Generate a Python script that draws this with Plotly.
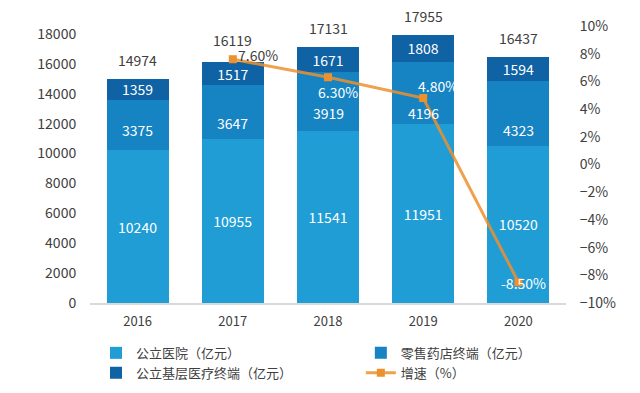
import plotly.graph_objects as go

years = ["2016", "2017", "2018", "2019", "2020"]
hospital = [10240, 10955, 11541, 11951, 10520]
retail = [3375, 3647, 3919, 4196, 4323]
primary = [1359, 1517, 1671, 1808, 1594]
totals = [14974, 16119, 17131, 17955, 16437]
growth = [None, 7.6, 6.3, 4.8, -8.5]
growth_labels = ["", "7.60%", "6.30%", "4.80%", "-8.50%"]

FONT = "Noto Sans CJK SC, Noto Sans, sans-serif"
C1, C2, C3 = "#209DD5", "#1683C3", "#0F62A4"
ORANGE = "#EC912E"
LINE = "rgba(236,145,46,0.85)"
TXT = "#404040"
CLEAR = "rgba(0,0,0,0)"
retail_label_shift = [-5, -11, -12, -20, -16]   # label nudges (style only)
total_label_shift = [0, 3, 0, 0, 0]             # label nudges (style only)

xpos = list(range(len(years)))

fig = go.Figure()
fig.add_trace(go.Bar(x=xpos, y=hospital, name="公立医院（亿元）", legend="legend",
                     marker=dict(color=C1, line=dict(width=0)),
                     text=[str(v) for v in hospital], textposition="inside",
                     insidetextanchor="middle", constraintext="none",
                     textfont=dict(color="white", size=14, family=FONT)))
fig.add_trace(go.Bar(x=xpos, y=retail, name="零售药店终端（亿元）", legend="legend2",
                     marker=dict(color=C2, line=dict(width=0))))
fig.add_trace(go.Bar(x=xpos, y=primary, name="公立基层医疗终端（亿元）", legend="legend",
                     marker=dict(color=C3, line=dict(width=0)),
                     text=[str(v) for v in primary], textposition="inside",
                     insidetextanchor="middle", constraintext="none",
                     textfont=dict(color="white", size=14, family=FONT)))

# retail segment labels (placed at segment middle, nudged like the original)
for xi, h, r, sh in zip(xpos, hospital, retail, retail_label_shift):
    fig.add_annotation(x=xi, y=h + r / 2, xref="x", yref="y", text=str(r), showarrow=False,
                       yshift=sh, font=dict(color="white", size=14, family=FONT))

# totals above the stacks
for xi, t, sh in zip(xpos, totals, total_label_shift):
    fig.add_annotation(x=xi, y=t, xref="x", yref="y", text=str(t), showarrow=False,
                       yanchor="bottom", yshift=7 + sh,
                       font=dict(color=TXT, size=14, family=FONT))

fig.add_trace(go.Scatter(x=xpos, y=growth, name="增速（%）", yaxis="y2", mode="lines+markers",
                         legend="legend2",
                         line=dict(color=LINE, width=3), marker=dict(symbol="square", size=8, color=ORANGE),
                         cliponaxis=False))

label_style = {
    "7.60%": dict(xshift=25, yshift=4, color=TXT),
    "6.30%": dict(xshift=10, yshift=-15, color="white"),
    "4.80%": dict(xshift=15, yshift=12, color="white"),
    "-8.50%": dict(xshift=5, yshift=-1, color="white"),
}
for xi, g, lab in zip(xpos, growth, growth_labels):
    if g is None:
        continue
    st = label_style[lab]
    fig.add_annotation(x=xi, y=g, xref="x", yref="y2", text=lab, showarrow=False,
                       xshift=st["xshift"], yshift=st["yshift"],
                       font=dict(color=st["color"], size=14, family=FONT))

legend_common = dict(xanchor="left", yanchor="top", font=dict(size=13, family=FONT),
                     traceorder="normal", tracegroupgap=0, bgcolor=CLEAR)

fig.update_layout(
    width=640, height=393, barmode="stack", bargap=0.35,
    paper_bgcolor="white", plot_bgcolor="white",
    margin=dict(l=82, r=82, t=18, b=98, autoexpand=False),
    font=dict(family=FONT, color=TXT, size=13),
    xaxis=dict(range=[-0.5, len(years) - 0.5], tickvals=xpos, ticktext=years, automargin=False,
               showline=True, linecolor="#D9D9D9", linewidth=1.5, showgrid=False, zeroline=False,
               ticks="outside", ticklen=6, tickcolor=CLEAR, tickfont=dict(size=13)),
    yaxis=dict(range=[0, 18540], tickvals=list(range(0, 18001, 2000)), tickformat="d",
               automargin=False, showgrid=False, zeroline=False, tickfont=dict(size=14),
               ticks="outside", ticklen=10, tickcolor=CLEAR),
    yaxis2=dict(overlaying="y", side="right", range=[-10, 10], dtick=2, ticksuffix="%",
                automargin=False, showgrid=False, zeroline=False, tickfont=dict(size=14),
                ticks="outside", ticklen=10, tickcolor=CLEAR),
    legend=dict(x=0.0126, y=-0.126, **legend_common),
    legend2=dict(x=0.569, y=-0.126, **legend_common),
    showlegend=True,
)
fig.write_html("out.html")
